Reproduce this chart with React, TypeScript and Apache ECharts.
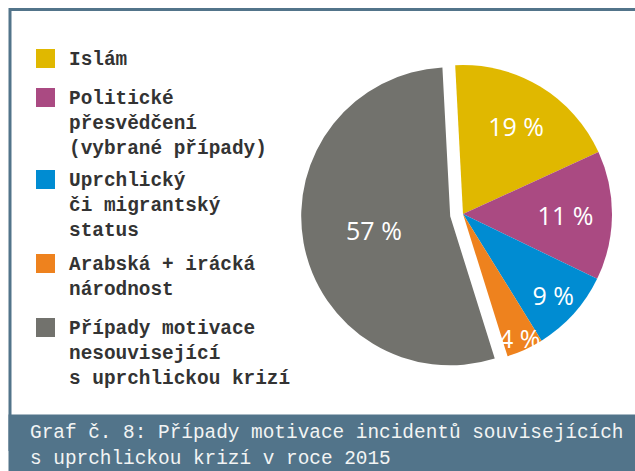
import React, { useEffect, useRef } from "react";
import * as echarts from "echarts";

// ---- data ----
const categories = [
  "Islám",
  "Politické\npřesvědčení\n(vybrané případy)",
  "Uprchlický\nči migrantský\nstatus",
  "Arabská + irácká\nnárodnost",
  "Případy motivace\nnesouvisející\ns uprchlickou krizí",
];
// arc sizes as drawn in the picture (percent of the full circle)
const sliceShares = [19, 14, 9, 4, 54];
// percentages printed on the slices
const printedPercents = [19, 11, 9, 4, 57];
const captionLines = [
  "Graf č. 8: Případy motivace incidentů souvisejících",
  "s uprchlickou krizí v roce 2015",
];

// ---- styles / layout ----
const colors = ["#E0B800", "#AA4A82", "#008CD2", "#EE821E", "#72726D"];
const frameColor = "#52748A";
const mono = "'Liberation Mono', 'DejaVu Sans Mono', monospace";
const pieCenter = [463, 214];
const pieRadius = 149;
const explodedIndex = 4;
// inner/outer ring of the invisible label carriers (label sits mid-ring)
const labelRings: Record<number, [number, number]> = {
  0: [50, 149],
  1: [50, 149],
  2: [88, 149],
  3: [117, 149],
};
const legendTops = [49, 88, 170, 254, 318];
const legendX = 36;
const legendTextX = 69;
const legendLineHeight = 25;

export default function App() {
  const ref = useRef<HTMLDivElement>(null);
  useEffect(() => {
    if (!ref.current) return;
    const chart = echarts.init(ref.current, undefined, { renderer: "svg" });

    const labelStyle = {
      color: "#ffffff",
      fontFamily: "'Open Sans', sans-serif",
      fontSize: 25,
      textBorderWidth: 0,
    };

    const mainSeries: any = {
      type: "pie",
      center: pieCenter,
      radius: pieRadius,
      startAngle: 93,
      clockwise: true,
      selectedMode: "single",
      selectedOffset: 13,
      avoidLabelOverlap: false,
      silent: true,
      emphasis: { disabled: true },
      labelLine: { show: false },
      label: { show: false },
      z: 2,
      data: categories.map((name, i) => ({
        name,
        value: sliceShares[i],
        selected: i === explodedIndex,
        itemStyle: { color: colors[i] },
        label:
          i === explodedIndex
            ? {
                show: true,
                position: "inside",
                formatter: `${printedPercents[i]} %`,
                ...labelStyle,
              }
            : { show: false },
      })),
    };

    const ringKeys = Array.from(
      new Set(Object.values(labelRings).map((r) => r.join(",")))
    );
    const overlaySeries = ringKeys.map((key) => {
      const ring = key.split(",").map(Number);
      return {
        type: "pie",
        center: pieCenter,
        radius: ring,
        startAngle: 93,
        clockwise: true,
        silent: true,
        avoidLabelOverlap: false,
        emphasis: { disabled: true },
        labelLine: { show: false },
        itemStyle: { color: "rgba(0,0,0,0)" },
        z: 3,
        data: categories.map((name, i) => {
          const r = labelRings[i];
          const show = !!r && r.join(",") === key;
          return {
            name: "lbl-" + i,
            value: sliceShares[i],
            itemStyle: { color: "rgba(0,0,0,0)" },
            label: show
              ? {
                  show: true,
                  position: "inside",
                  formatter: `${printedPercents[i]} %`,
                  ...labelStyle,
                }
              : { show: false },
          };
        }),
      };
    });

    const legendGraphics: any[] = [];
    categories.forEach((name, i) => {
      const top = legendTops[i];
      legendGraphics.push({
        type: "rect",
        shape: { x: legendX, y: top, width: 19, height: 19 },
        style: { fill: colors[i] },
        silent: true,
      });
      legendGraphics.push({
        type: "text",
        x: legendTextX,
        y: top + 10.5 - legendLineHeight / 2,
        style: {
          text: name,
          fill: "#333333",
          font: `bold 19.4px ${mono}`,
          lineHeight: legendLineHeight,
          verticalAlign: "top",
          align: "left",
        },
        silent: true,
      });
    });

    const frameGraphics: any[] = [
      {
        type: "rect",
        shape: { x: 10, y: 9.5, width: 700, height: 440 },
        style: { fill: "none", stroke: frameColor, lineWidth: 3 },
        silent: true,
      },
      {
        type: "rect",
        shape: { x: 8.5, y: 414.5, width: 640, height: 60 },
        style: { fill: frameColor },
        silent: true,
      },
      {
        type: "text",
        x: 30,
        y: 420,
        style: {
          text: captionLines.join("\n"),
          fill: "#F2F4F4",
          font: `19.4px ${mono}`,
          lineHeight: 26,
          verticalAlign: "top",
          align: "left",
        },
        silent: true,
      },
    ];

    chart.setOption({
      animation: false,
      backgroundColor: "#ffffff",
      series: [mainSeries, ...overlaySeries],
      graphic: { elements: [...frameGraphics, ...legendGraphics] },
    });

    return () => chart.dispose();
  }, []);

  return (
    <div
      ref={ref}
      style={{ position: "absolute", left: 0, top: 0, width: 635, height: 471 }}
    />
  );
}
